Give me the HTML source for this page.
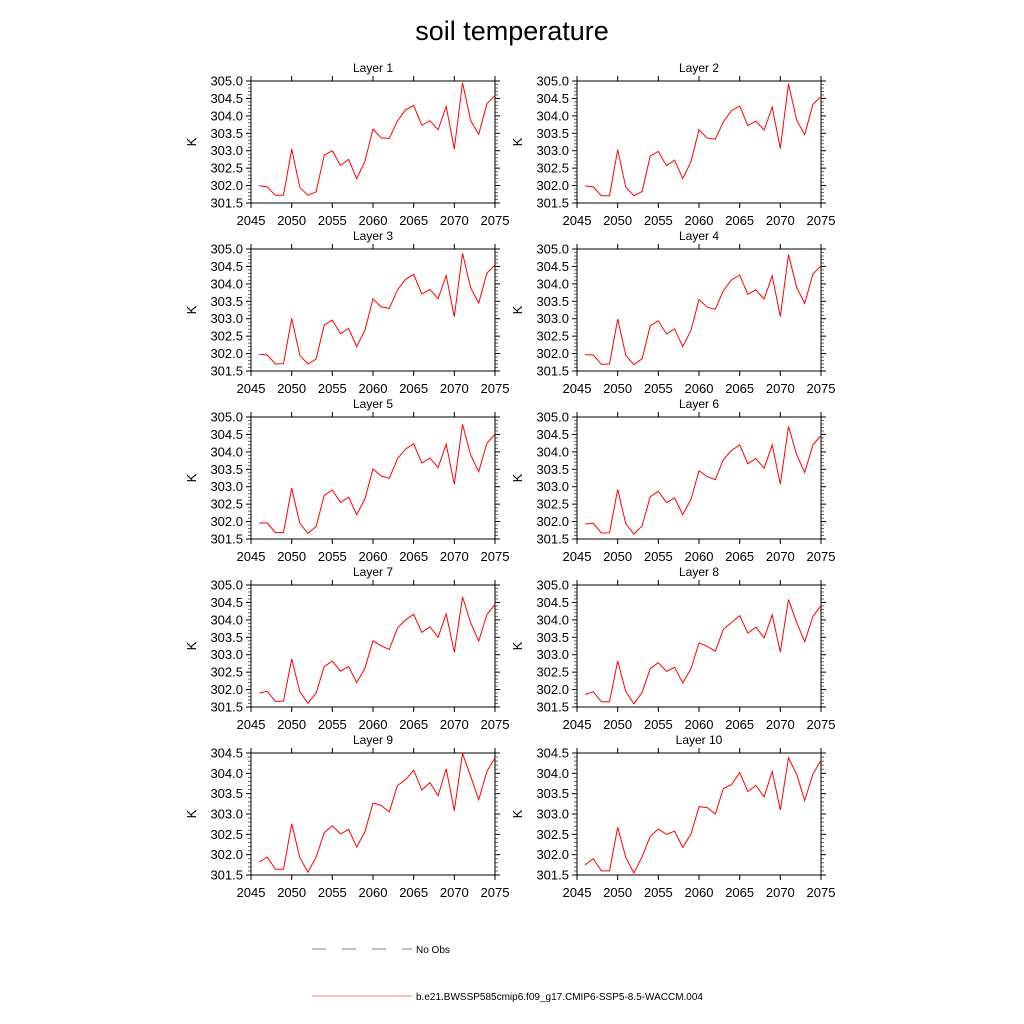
<!DOCTYPE html>
<html><head><meta charset="utf-8"><style>
body{margin:0;background:#fff;}
svg{display:block;font-family:"Liberation Sans",sans-serif;}
</style></head><body>
<svg id="chart" width="1024" height="1024">
<text x="512" y="40" font-size="27" text-anchor="middle">soil temperature</text>
<g id="panels"></g>
<g>
<line x1="312" y1="949" x2="412" y2="949" stroke="#555" stroke-width="0.8" stroke-dasharray="14,16"/>
<text x="416" y="953" font-size="10">No Obs</text>
<line x1="312" y1="996" x2="412" y2="996" stroke="#f00" stroke-width="0.6"/>
<text x="416" y="1000" font-size="10">b.e21.BWSSP585cmip6.f09_g17.CMIP6-SSP5-8.5-WACCM.004</text>
</g>
</svg>
<script>
const years = [2046,2047,2048,2049,2050,2051,2052,2053,2054,2055,2056,2057,2058,2059,2060,2061,2062,2063,2064,2065,2066,2067,2068,2069,2070,2071,2072,2073,2074,2075];
const layerNames = ["Layer 1","Layer 2","Layer 3","Layer 4","Layer 5","Layer 6","Layer 7","Layer 8","Layer 9","Layer 10"];
const xTicks = [2045,2050,2055,2060,2065,2070,2075];
const yTicksA = [301.5,302.0,302.5,303.0,303.5,304.0,304.5,305.0];
const yTicksB = [301.5,302.0,302.5,303.0,303.5,304.0,304.5];
const layer1 = [302.00,301.96,301.72,301.72,303.05,301.95,301.72,301.82,302.87,303.00,302.58,302.75,302.20,302.70,303.62,303.37,303.35,303.85,304.17,304.30,303.73,303.86,303.60,304.27,303.05,304.95,303.87,303.47,304.35,304.58];
const layer2 = [301.99,301.96,301.71,301.71,303.03,301.95,301.71,301.83,302.85,302.98,302.57,302.73,302.20,302.68,303.60,303.36,303.33,303.83,304.15,304.28,303.72,303.85,303.59,304.25,303.06,304.92,303.88,303.46,304.33,304.56];
const layer3 = [301.98,301.96,301.70,301.71,303.01,301.95,301.70,301.84,302.82,302.96,302.57,302.72,302.20,302.67,303.57,303.34,303.30,303.82,304.13,304.27,303.71,303.84,303.57,304.24,303.06,304.88,303.89,303.45,304.31,304.54];
const layer4 = [301.97,301.96,301.69,301.70,302.99,301.95,301.68,301.85,302.79,302.94,302.56,302.71,302.20,302.66,303.55,303.33,303.27,303.81,304.11,304.25,303.70,303.83,303.56,304.23,303.06,304.84,303.90,303.44,304.28,304.52];
const layer5 = [301.96,301.96,301.68,301.69,302.96,301.95,301.66,301.86,302.75,302.91,302.55,302.70,302.20,302.65,303.51,303.31,303.24,303.80,304.08,304.23,303.68,303.82,303.55,304.22,303.07,304.79,303.91,303.43,304.25,304.50];
const layer6 = [301.93,301.95,301.67,301.68,302.92,301.94,301.64,301.88,302.71,302.87,302.54,302.68,302.20,302.63,303.46,303.29,303.20,303.78,304.04,304.20,303.66,303.81,303.53,304.20,303.07,304.73,303.92,303.41,304.20,304.47];
const layer7 = [301.90,301.95,301.66,301.67,302.88,301.94,301.61,301.90,302.66,302.82,302.53,302.66,302.20,302.61,303.40,303.26,303.15,303.76,304.00,304.16,303.64,303.80,303.50,304.17,303.07,304.66,303.92,303.39,304.15,304.44];
const layer8 = [301.86,301.94,301.65,301.65,302.82,301.94,301.59,301.92,302.60,302.77,302.52,302.64,302.19,302.59,303.34,303.24,303.10,303.73,303.92,304.12,303.62,303.79,303.48,304.14,303.08,304.58,303.93,303.37,304.10,304.41];
const layer9 = [301.82,301.94,301.64,301.64,302.76,301.93,301.57,301.94,302.54,302.71,302.51,302.62,302.19,302.56,303.27,303.21,303.05,303.70,303.84,304.08,303.59,303.77,303.45,304.11,303.08,304.49,303.93,303.35,304.05,304.38];
const layer10 = [301.75,301.90,301.60,301.60,302.67,301.93,301.55,301.95,302.45,302.63,302.50,302.58,302.18,302.50,303.18,303.16,303.00,303.63,303.72,304.02,303.55,303.70,303.42,304.05,303.10,304.38,303.98,303.33,303.98,304.32];
const layers = [layer1,layer2,layer3,layer4,layer5,layer6,layer7,layer8,layer9,layer10];

const NS='http://www.w3.org/2000/svg';
const root=document.getElementById('panels');
function mk(tag,attrs,parent){const e=document.createElementNS(NS,tag);for(const k in attrs)e.setAttribute(k,attrs[k]);parent.appendChild(e);return e;}
const colX=[251,577], W=244, H=122, rowY=[81,249,417,585,753];
layers.forEach((data,i)=>{
  const L=colX[i%2], T=rowY[Math.floor(i/2)], R=L+W, B=T+H;
  const yT = i>=8 ? yTicksB : yTicksA;
  const ymin=yT[0], ymax=yT[yT.length-1];
  const xs=v=>L+(v-2045)/(2075-2045)*W;
  const ys=v=>B-(v-ymin)/(ymax-ymin)*H;
  const g=mk('g',{},root);
  
  
  const t=mk('text',{x:(L+R)/2,y:T-9,'font-size':12,'text-anchor':'middle'},g);
  t.textContent=layerNames[i];
  
  
  const yl=mk('text',{x:0,y:0,'font-size':13,'text-anchor':'middle',transform:`translate(${L-55},${(T+B)/2}) rotate(-90)`},g);
  yl.textContent='K';
  
  
  xTicks.forEach(v=>{
    const x=xs(v);
    mk('line',{x1:x,y1:B,x2:x,y2:B+5,stroke:'#000','stroke-width':1},g);
    mk('line',{x1:x,y1:T,x2:x,y2:T-5,stroke:'#000','stroke-width':1},g);
    const tx=mk('text',{x:x,y:B+22,'font-size':13,'text-anchor':'middle'},g);
    tx.textContent=v;
    
    
  });
  for(let k=0;k<=Math.round((ymax-ymin)*10);k++){
    const v=ymin+k*0.1, y=ys(v), maj=(k%5===0), len=maj?5:3;
    mk('line',{x1:L,y1:y,x2:L-len,y2:y,stroke:maj?'#000':'#666','stroke-width':1},g);
    mk('line',{x1:R,y1:y,x2:R+len,y2:y,stroke:maj?'#000':'#666','stroke-width':1},g);
  }
  yT.forEach(v=>{
    const ty=mk('text',{x:L-8,y:ys(v)+4.5,'font-size':13,'text-anchor':'end'},g);
    ty.textContent=v.toFixed(1);
    
    
  });
  const fr=mk('rect',{x:L,y:T,width:W,height:H,fill:'none',stroke:'#000','stroke-width':1},g);
  
  
  const pts=data.map((v,j)=>xs(years[j]).toFixed(1)+','+ys(v).toFixed(1)).join(' ');
  const pl=mk('polyline',{points:pts,fill:'none',stroke:'#f00','stroke-width':1},g);
  
  
});
</script>
</body></html>
